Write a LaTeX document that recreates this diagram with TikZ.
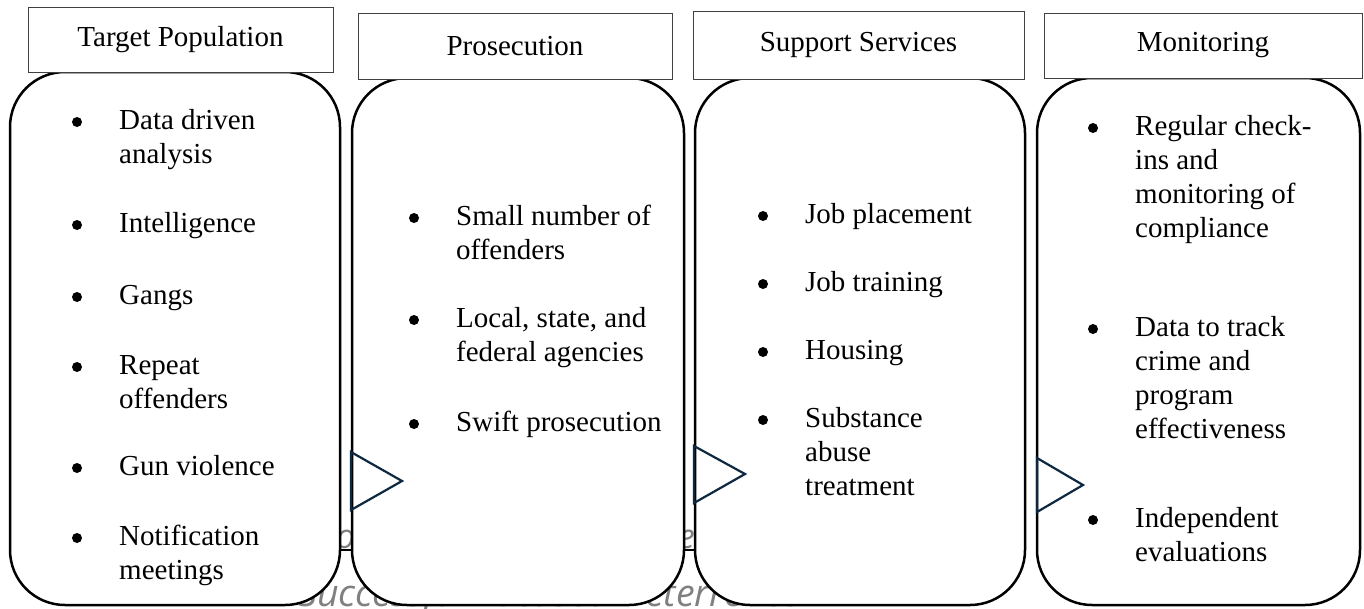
\documentclass[tikz,border=0pt]{standalone}
\usepackage{fontspec}
\setmainfont{Liberation Serif}
\newfontfamily\ghostfont{Open Sans}
\definecolor{navy}{HTML}{0E2841}
\definecolor{headline}{HTML}{404040}
\tikzset{
  head/.style={draw=headline, line width=1pt, fill=white, inner sep=0pt,
    font=\fontsize{29}{33.5}\selectfont},
  panel/.style={draw=black, line width=2.5pt, rounded corners=55pt, fill=white},
  tri/.style={draw=navy, line width=2.2pt, line join=miter},
  items/.style={anchor=base west, inner sep=0pt, align=left,
    font=\fontsize{29}{34}\selectfont},
  dot/.style={fill=black},
  ghost/.style={anchor=base west, inner sep=0pt, text=black!50},
  ghostA/.style={ghost, font=\ghostfont\itshape\fontsize{34}{40}\selectfont},
  ghostB/.style={ghost, font=\ghostfont\itshape\fontsize{37.5}{44}\selectfont},
}
\newcommand{\lines}[1]{\begin{tabular}[t]{@{}l@{}}#1\end{tabular}}
\begin{document}
\begin{tikzpicture}[x=1pt,y=-1pt]
\useasboundingbox (0,0) rectangle (1364,608);
% hidden background text
\node[ghostA] (g1) at (243,548) {Four components of the model};
\node[ghostB] (g2) at (298,606) {Successful Focused Deterrence};
\coordinate (u1) at (300,550);
\coordinate (u2) at (720,550);
\draw[line width=1.5pt] (u1) -- (u2);
% panels
\draw[panel] (10,72) rectangle (340,605);
\draw[panel] (352,78) rectangle (684,605);
\draw[panel] (695,78) rectangle (1025,605);
\draw[panel] (1037,78) rectangle (1360,605);
% headers
\node[head, minimum width=305pt, minimum height=65pt] (h1) at (180.5,40) {Target Population};
\node[head, minimum width=314pt, minimum height=66pt] (h2) at (515,46) {Prosecution};
\node[head, minimum width=331pt, minimum height=68pt] (h3) at (858.5,45) {Support Services};
\node[head, minimum width=318pt, minimum height=65pt] (h4) at (1203,45.5) {Monitoring};
% column 1
\foreach \y in {122,225,297,367,468,538} \fill[dot] (77,\y) circle (5);
\node[items] (a1) at (119,129) {\lines{Data driven\\analysis}};
\node[items] (a2) at (119,232) {Intelligence};
\node[items] (a3) at (119,304) {Gangs};
\node[items] (a4) at (119,374) {\lines{Repeat\\offenders}};
\node[items] (a5) at (119,475) {Gun violence};
\node[items] (a6) at (119,545) {\lines{Notification\\meetings}};
% column 2
\foreach \y in {218,320,424} \fill[dot] (414,\y) circle (5);
\node[items] (b1) at (456,225) {\lines{Small number of\\offenders}};
\node[items] (b2) at (456,327) {\lines{Local, state, and\\federal agencies}};
\node[items] (b3) at (456,431) {Swift prosecution};
% column 3
\foreach \y in {216,284,352,420} \fill[dot] (763,\y) circle (5);
\node[items] (d1) at (805,223) {Job placement};
\node[items] (d2) at (805,291) {Job training};
\node[items] (d3) at (805,359) {Housing};
\node[items] (d4) at (805,427) {\lines{Substance\\abuse\\treatment}};
% column 4
\foreach \y in {128,329,520} \fill[dot] (1093,\y) circle (5);
\node[items] (e1) at (1135,135) {\lines{Regular check-\\ins and\\monitoring of\\compliance}};
\node[items] (e2) at (1135,336) {\lines{Data to track\\crime and\\program\\effectiveness}};
\node[items] (e3) at (1135,527) {\lines{Independent\\evaluations}};
% triangles
\draw[tri] (351,452) -- (402,481) -- (351,510) -- cycle;
\draw[tri] (694,446) -- (745,474) -- (694,503) -- cycle;
\draw[tri] (1037,458) -- (1083,485) -- (1037,512) -- cycle;
\end{tikzpicture}
\end{document}
